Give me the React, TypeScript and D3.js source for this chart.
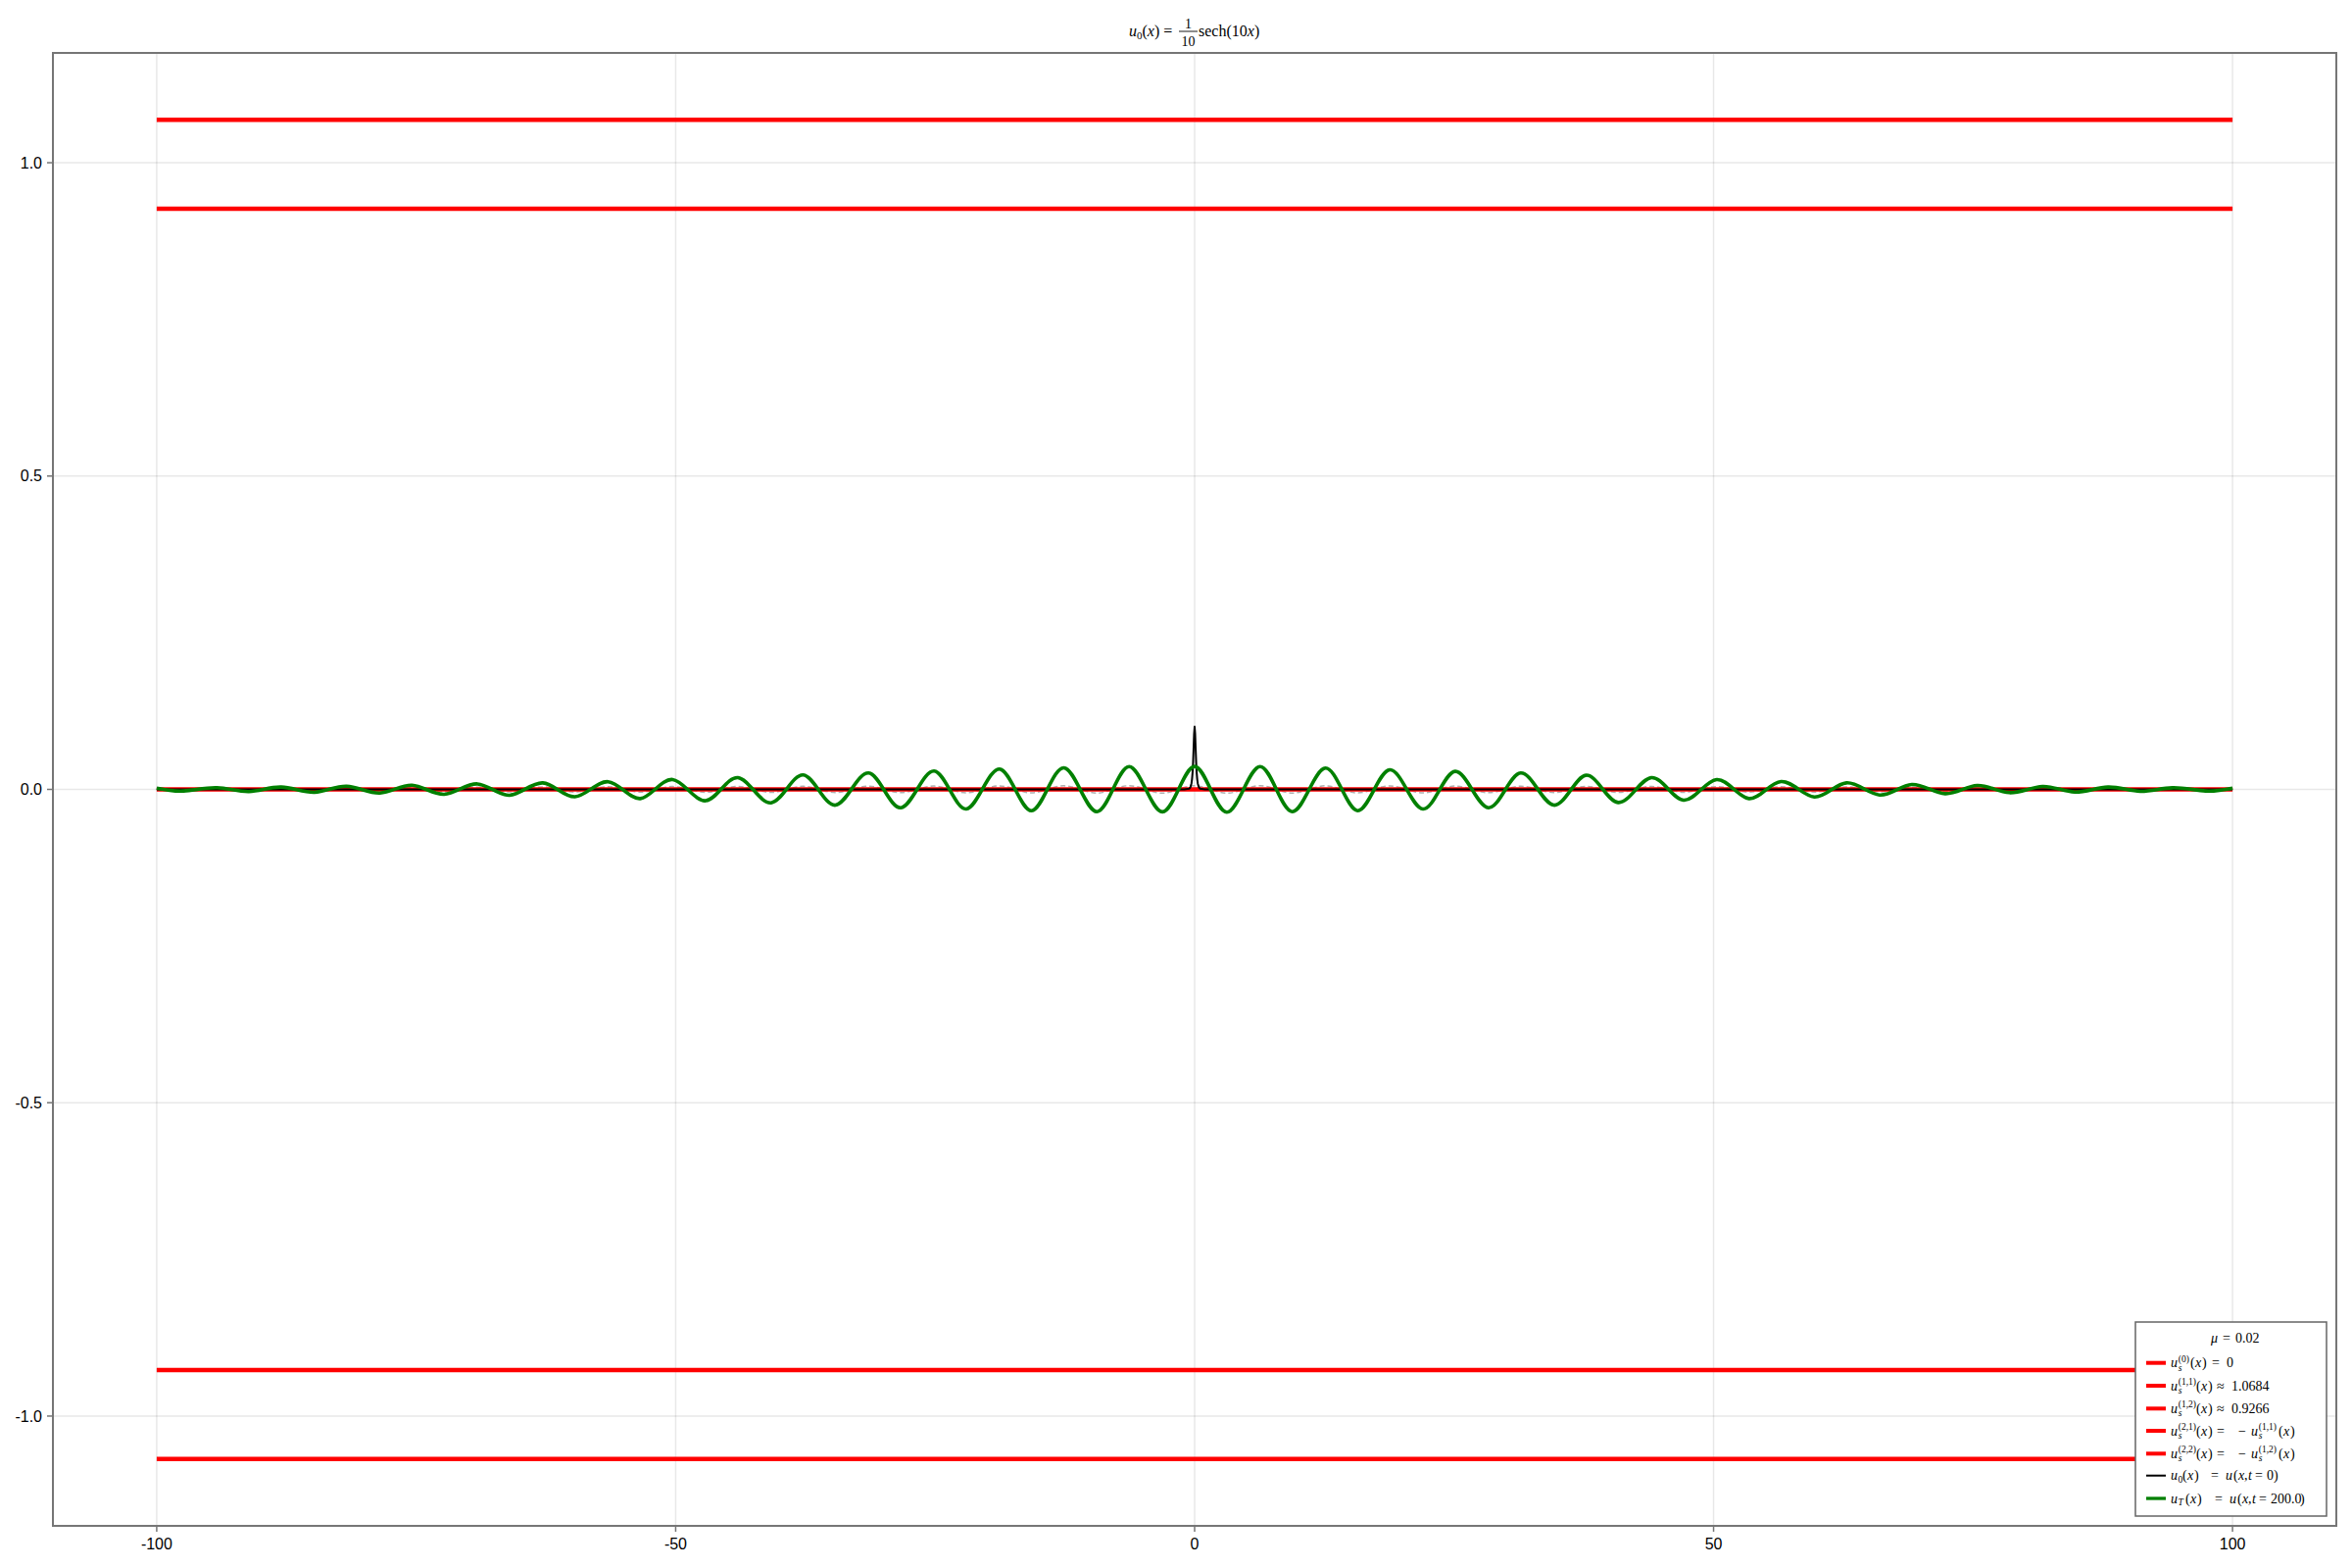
import * as d3 from 'd3';

// canvas and plot frame
const W = 2400;
const H = 1600;
const margin = { left: 54, right: 16, top: 54, bottom: 43 };

// axis ticks
const xTicks = [-100, -50, 0, 50, 100];
const xTickLabels = ['-100', '-50', '0', '50', '100'];
const yTicks = [-1, -0.5, 0, 0.5, 1];
const yTickLabels = ['-1.0', '-0.5', '0.0', '0.5', '1.0'];

// steady states u_s (red lines)
const steadyLevels = [0, 1.0684, 0.9266, -1.0684, -0.9266];

// u0(x): initial profile (black), spike at x = 0
const u0X = [-100, -1, -0.5, -0.4, -0.3, -0.25, -0.2, -0.15, -0.1, -0.05, 0, 0.05, 0.1, 0.15, 0.2, 0.25, 0.3, 0.4, 0.5, 1, 100];
const u0Y = [0, 0, 0.0013, 0.0037, 0.0099, 0.0163, 0.0266, 0.0425, 0.0648, 0.0887, 0.1, 0.0887, 0.0648, 0.0425, 0.0266, 0.0163, 0.0099, 0.0037, 0.0013, 0, 0];

// uT(x) at t = 200 (green): read at peaks / troughs
const uTX = [
  -100, -97.4, -94.2, -91.1, -88.0, -84.8, -81.7, -78.5, -75.4, -72.3, -69.1, -66.0, -62.8,
  -59.7, -56.5, -53.4, -50.3, -47.1, -44.0, -40.8, -37.7, -34.6, -31.4, -28.3, -25.1, -22.0,
  -18.8, -15.7, -12.6, -9.4, -6.3, -3.1, 0,
  3.1, 6.3, 9.4, 12.6, 15.7, 18.8, 22.0, 25.1, 28.3, 31.4, 34.6, 37.7, 40.8, 44.0, 47.1, 50.3,
  53.4, 56.5, 59.7, 62.8, 66.0, 69.1, 72.3, 75.4, 78.5, 81.7, 84.8, 88.0, 91.1, 94.2, 97.4, 100,
];
const uTY = [
  0.0020, -0.0026, 0.0027, -0.0034, 0.0037, -0.0046, 0.0051, -0.0058, 0.0067, -0.0077, 0.0087, -0.0093, 0.0104,
  -0.0117, 0.0122, -0.0146, 0.0157, -0.0181, 0.0188, -0.0214, 0.0230, -0.0251, 0.0261, -0.0293, 0.0293, -0.0313,
  0.0324, -0.0340, 0.0345, -0.0355, 0.0364, -0.0358, 0.0366,
  -0.0364, 0.0364, -0.0355, 0.0340, -0.0340, 0.0313, -0.0313, 0.0287, -0.0293, 0.0261, -0.0251, 0.0225, -0.0209, 0.0188, -0.0172, 0.0157,
  -0.0146, 0.0125, -0.0120, 0.0104, -0.0089, 0.0078, -0.0068, 0.0063, -0.0052, 0.0047, -0.0042, 0.0037, -0.0031, 0.0026, -0.0026, 0.0020,
];

// faint dashed companion curve (grey)
const dashY = [
  0.0018, -0.0020, 0.0021, -0.0023, 0.0025, -0.0027, 0.0029, -0.0031, 0.0033, -0.0035, 0.0037, -0.0039, 0.0041,
  -0.0042, 0.0043, -0.0044, 0.0045, -0.0046, 0.0047, -0.0048, 0.0049, -0.0050, 0.0051, -0.0052, 0.0053, -0.0054,
  0.0055, -0.0056, 0.0057, -0.0058, 0.0059, -0.0060, 0.0060,
  -0.0060, 0.0059, -0.0058, 0.0057, -0.0056, 0.0055, -0.0054, 0.0053, -0.0052, 0.0051, -0.0050, 0.0049, -0.0048, 0.0047, -0.0046, 0.0045,
  -0.0044, 0.0043, -0.0042, 0.0041, -0.0039, 0.0037, -0.0035, 0.0033, -0.0031, 0.0029, -0.0027, 0.0025, -0.0023, 0.0021, -0.0020, 0.0018,
];

const serif = '"Liberation Serif", "DejaVu Serif", serif';
const sans = '"Liberation Sans", Arial, sans-serif';

type Seg = { t: string; x: number; dy?: number; size?: number; it?: boolean };

function MathText({ segs, y, size = 14 }: { segs: Seg[]; y: number; size?: number }) {
  return (
    <g fontFamily={serif} fill="#000">
      {segs.map((s, i) => (
        <text key={i} x={s.x} y={y + (s.dy ?? 0)} fontSize={s.size ?? size} fontStyle={s.it ? 'italic' : 'normal'}>
          {s.t}
        </text>
      ))}
    </g>
  );
}

// "(x)" with italic x; close=false drops the ")"
const px = (x: number, close = true): Seg[] => {
  const s: Seg[] = [
    { t: '(', x },
    { t: 'x', x: x + 5, it: true },
  ];
  if (close) s.push({ t: ')', x: x + 12 });
  return s;
};

const sup = 9.5;

export default function App() {
  const x = d3.scaleLinear().domain([-110, 110]).range([margin.left, W - margin.right]);
  const y = d3.scaleLinear().domain([-1.1752, 1.1752]).range([H - margin.bottom, margin.top]);

  const line = d3.line<[number, number]>().x(d => x(d[0])).y(d => y(d[1]));
  const smooth = d3.line<[number, number]>().x(d => x(d[0])).y(d => y(d[1])).curve(d3.curveNatural);

  const u0Pts = u0X.map((v, i) => [v, u0Y[i]] as [number, number]);
  const uTPts = uTX.map((v, i) => [v, uTY[i]] as [number, number]);
  const dashPts = uTX.map((v, i) => [v, dashY[i]] as [number, number]);

  const left = margin.left;
  const right = W - margin.right;
  const top = margin.top;
  const bottom = H - margin.bottom;

  // legend
  const lx = 2179;
  const ly = 1349;
  const rows = [1390.7, 1414, 1437.3, 1460, 1483.3, 1505.7, 1529];
  const legendColors = ['#ff0000', '#ff0000', '#ff0000', '#ff0000', '#ff0000', '#000000', '#008000'];
  const legendWidths = [4, 4, 4, 4, 4, 2, 3.3];
  const ux = 2215;
  const us = (x0: number, s: string): Seg[] => [
    { t: 'u', x: x0, it: true },
    { t: s, x: x0 + 7.8, dy: -5.5, size: sup },
    { t: 's', x: x0 + 7.8, dy: 3.5, size: sup, it: true },
  ];
  const labels: Seg[][] = [
    [...us(ux, '(0)'), ...px(2235), { t: '=', x: 2257 }, { t: '0', x: 2272 }],
    [...us(ux, '(1,1)'), ...px(2241), { t: '≈', x: 2262 }, { t: '1.0684', x: 2277 }],
    [...us(ux, '(1,2)'), ...px(2241), { t: '≈', x: 2262 }, { t: '0.9266', x: 2277 }],
    [...us(ux, '(2,1)'), ...px(2241), { t: '=', x: 2262 }, { t: '−', x: 2284 }, ...us(2297, '(1,1)'), ...px(2325)],
    [...us(ux, '(2,2)'), ...px(2241), { t: '=', x: 2262 }, { t: '−', x: 2284 }, ...us(2297, '(1,2)'), ...px(2325)],
    [{ t: 'u', x: ux, it: true }, { t: '0', x: ux + 7.6, dy: 2.5, size: sup },
      ...px(2227), { t: '=', x: 2256 }, { t: 'u', x: 2271, it: true }, ...px(2279, false),
      { t: ',', x: 2290 }, { t: 't', x: 2294, it: true }, { t: '=', x: 2301 }, { t: '0', x: 2313 }, { t: ')', x: 2320 }],
    [{ t: 'u', x: ux, it: true }, { t: 'T', x: ux + 7.6, dy: 2.5, size: sup, it: true },
      ...px(2230), { t: '=', x: 2260 }, { t: 'u', x: 2275, it: true }, ...px(2283, false),
      { t: ',', x: 2294 }, { t: 't', x: 2298, it: true }, { t: '=', x: 2305 }, { t: '200.0', x: 2317 }, { t: ')', x: 2347 }],
  ];

  return (
    <svg width={W} height={H} style={{ position: 'absolute', left: 0, top: 0, background: '#fff' }}>
      <rect x={0} y={0} width={W} height={H} fill="#fff" />

      {/* grid */}
      <g stroke="#000" strokeOpacity={0.09} strokeWidth={1.5}>
        {xTicks.map(t => <line key={'gx' + t} x1={x(t)} x2={x(t)} y1={top} y2={bottom} />)}
        {yTicks.map(t => <line key={'gy' + t} x1={left} x2={right} y1={y(t)} y2={y(t)} />)}
      </g>

      {/* faint dashed curve */}
      <path d={smooth(dashPts) ?? ''} fill="none" stroke="#9a9a9a" strokeWidth={1.5} strokeDasharray="5 3" strokeOpacity={0.8} />

      {/* steady states */}
      {steadyLevels.map((v, i) => (
        <path key={'s' + i} d={line([[-100, v], [100, v]]) ?? ''} fill="none" stroke="#ff0000" strokeWidth={4.5} />
      ))}

      {/* initial condition */}
      <path d={line(u0Pts) ?? ''} fill="none" stroke="#000" strokeWidth={2} strokeLinejoin="round" />

      {/* solution at t = 200 */}
      <path d={smooth(uTPts) ?? ''} fill="none" stroke="#008000" strokeWidth={3.6} strokeLinejoin="round" />

      {/* spines */}
      <rect x={left} y={top} width={right - left} height={bottom - top} fill="none" stroke="#767676" strokeWidth={2} />

      {/* x ticks */}
      <g>
        {xTicks.map((t, i) => (
          <g key={'xt' + t}>
            <line x1={x(t)} x2={x(t)} y1={bottom} y2={bottom + 6} stroke="#767676" strokeWidth={1.5} />
            <text x={x(t)} y={bottom + 24} textAnchor="middle" fontFamily={sans} fontSize={16} fill="#000">{xTickLabels[i]}</text>
          </g>
        ))}
      </g>

      {/* y ticks */}
      <g>
        {yTicks.map((t, i) => (
          <g key={'yt' + t}>
            <line x1={left - 6} x2={left} y1={y(t)} y2={y(t)} stroke="#767676" strokeWidth={1.5} />
            <text x={left - 11} y={y(t)} dy="0.35em" textAnchor="end" fontFamily={sans} fontSize={16} fill="#000">{yTickLabels[i]}</text>
          </g>
        ))}
      </g>

      {/* title */}
      <g fontFamily={serif} fill="#000">
        <text x={1152} y={37} fontSize={16}>
          <tspan fontStyle="italic">u</tspan>
          <tspan fontSize={11} dy={3}>0</tspan>
          <tspan dy={-3}>(</tspan>
          <tspan fontStyle="italic">x</tspan>
          <tspan>) =</tspan>
        </text>
        <text x={1212.5} y={28.5} fontSize={14} textAnchor="middle">1</text>
        <line x1={1203} x2={1222} y1={32} y2={32} stroke="#000" strokeWidth={0.9} />
        <text x={1212.5} y={46.5} fontSize={14} textAnchor="middle">10</text>
        <text x={1223} y={37} fontSize={16}>
          <tspan>sech(10</tspan>
          <tspan fontStyle="italic">x</tspan>
          <tspan>)</tspan>
        </text>
      </g>

      {/* legend */}
      <rect x={lx} y={ly} width={195} height={198} fill="#fff" stroke="#666" strokeWidth={1.5} />
      <MathText y={1370} segs={[{ t: 'μ', x: 2256, it: true }, { t: '=', x: 2268 }, { t: '0.02', x: 2281 }]} />
      {rows.map((ry, i) => (
        <g key={'lg' + i}>
          <line x1={2190} x2={2210} y1={ry} y2={ry} stroke={legendColors[i]} strokeWidth={legendWidths[i]} />
          <MathText y={ry + 4.5} segs={labels[i]} />
        </g>
      ))}
    </svg>
  );
}
